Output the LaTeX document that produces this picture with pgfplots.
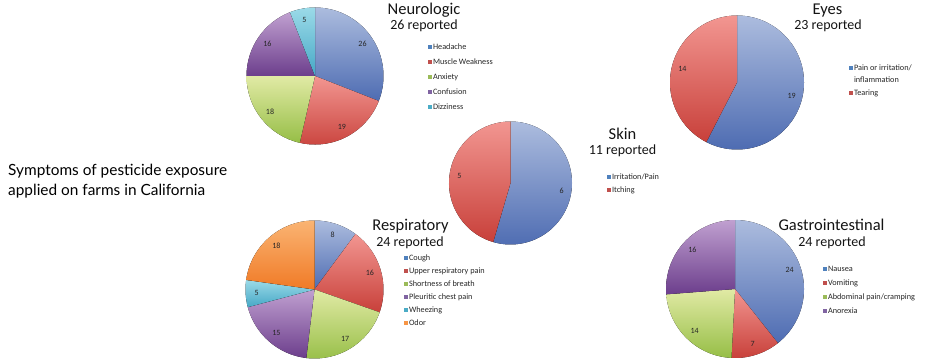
\documentclass[border=0pt]{standalone}
\usepackage{pgfplots}
\usepackage{pgfplotstable}
\pgfplotsset{compat=1.18}
\usepackage{fontspec}
\setmainfont{Carlito}
\newfontfamily\lato{Lato}

\definecolor{blueT}{RGB}{172,188,222}
\definecolor{blueB}{RGB}{78,108,178}
\definecolor{redT}{RGB}{242,150,145}
\definecolor{redB}{RGB}{200,64,58}
\definecolor{greenT}{RGB}{225,234,165}
\definecolor{greenB}{RGB}{150,190,70}
\definecolor{purpleT}{RGB}{192,160,208}
\definecolor{purpleB}{RGB}{108,62,140}
\definecolor{cyanT}{RGB}{155,218,232}
\definecolor{cyanB}{RGB}{70,168,198}
\definecolor{orangeT}{RGB}{250,180,115}
\definecolor{orangeB}{RGB}{240,122,38}
\definecolor{blueL}{RGB}{79,129,189}
\definecolor{redL}{RGB}{192,80,77}
\definecolor{greenL}{RGB}{155,187,89}
\definecolor{purpleL}{RGB}{128,100,162}
\definecolor{cyanL}{RGB}{75,172,198}
\definecolor{orangeL}{RGB}{247,150,70}

\pgfplotstableread{
value top bot
26 blueT blueB
19 redT redB
18 greenT greenB
16 purpleT purpleB
5 cyanT cyanB
}\neurotab
\pgfplotstableread{
value top bot
19 blueT blueB
14 redT redB
}\eyestab
\pgfplotstableread{
value top bot
6 blueT blueB
5 redT redB
}\skintab
\pgfplotstableread{
value top bot
8 blueT blueB
16 redT redB
17 greenT greenB
15 purpleT purpleB
5 cyanT cyanB
18 orangeT orangeB
}\resptab
\pgfplotstableread{
value top bot
24 blueT blueB
7 redT redB
14 greenT greenB
16 purpleT purpleB
}\gastrotab

\newcommand\drawpie[2]{%
  \pgfplotstablegetrowsof{#1}%
  \pgfmathtruncatemacro\pielast{\pgfplotsretval-1}%
  \gdef\pietotal{0}%
  \foreach \i in {0,...,\pielast}{%
    \pgfplotstablegetelem{\i}{value}\of{#1}%
    \pgfmathsetmacro\pietmp{\pietotal+\pgfplotsretval}%
    \global\let\pietotal\pietmp
  }%
  \gdef\pieangle{90}%
  \foreach \i in {0,...,\pielast}{%
    \pgfplotstablegetelem{\i}{value}\of{#1}\let\pieval\pgfplotsretval
    \pgfplotstablegetelem{\i}{top}\of{#1}\let\pietop\pgfplotsretval
    \pgfplotstablegetelem{\i}{bot}\of{#1}\let\piebot\pgfplotsretval
    \pgfmathsetmacro\piea{\pieangle}%
    \pgfmathsetmacro\pieb{\pieangle-360*\pieval/\pietotal}%
    \pgfmathsetmacro\piem{(\piea+\pieb)/2}%
    \fill[top color=\pietop, bottom color=\piebot] (axis cs:0,0) -- ++(\piea:#2pt) arc[start angle=\piea, end angle=\pieb, radius=#2pt] -- cycle;
    \path (axis cs:0,0) ++(\piem:{0.84*#2pt}) node[font=\fontsize{8}{9}\selectfont, text=black!85] {\pieval};
    \global\let\pieangle\pieb
  }%
}

\pgfplotsset{
  pieaxis/.style={hide axis, scale only axis, clip=false, anchor=center,
    width={2*#1pt}, height={2*#1pt}, xmin=-#1, xmax=#1, ymin=-#1, ymax=#1,
    legend cell align=left,
    legend style={anchor=north west, draw=none, fill=none, inner sep=0pt,
      font=\fontsize{8.25}{9}\selectfont,
      nodes={inner sep=0.6pt, text height=5.8pt, text depth=1.6pt, text=black!85},
      /tikz/every even column/.append style={column sep=2.6pt}},
    legend image code/.code={\fill[##1, draw=none] (0pt,-2.2pt) rectangle (4.4pt,2.2pt);}
  }
}

\begin{document}
\begin{tikzpicture}
\path[use as bounding box] (0pt,0pt) rectangle (940pt,362pt);

% Neurologic
\begin{axis}[pieaxis=68.5, at={(315pt,286pt)},
  legend style={at={(1.3234,0.7431)}, row sep=6.4pt}]
\pgfplotsextra{\drawpie{\neurotab}{68.5}}
\addlegendimage{fill=blueL}\addlegendentry{Headache}
\addlegendimage{fill=redL}\addlegendentry{Muscle Weakness}
\addlegendimage{fill=greenL}\addlegendentry{Anxiety}
\addlegendimage{fill=purpleL}\addlegendentry{Confusion}
\addlegendimage{fill=cyanL}\addlegendentry{Dizziness}
\end{axis}

% Eyes
\begin{axis}[pieaxis=67, at={(737pt,279.5pt)},
  legend style={at={(1.3343,0.6403)}, row sep=3.9pt}]
\pgfplotsextra{\drawpie{\eyestab}{67}}
\addlegendimage{fill=blueL}\addlegendentry{Pain or irritation/}
\addlegendimage{empty legend}\addlegendentry{inflammation}
\addlegendimage{fill=redL}\addlegendentry{Tearing}
\end{axis}

% Skin
\begin{axis}[pieaxis=61.5, at={(510.5pt,179pt)},
  legend style={at={(1.2829,0.5837)}, row sep=4.4pt}]
\pgfplotsextra{\drawpie{\skintab}{61.5}}
\addlegendimage{fill=blueL}\addlegendentry{Irritation/Pain}
\addlegendimage{fill=redL}\addlegendentry{Itching}
\end{axis}

% Respiratory
\begin{axis}[pieaxis=69, at={(314.5pt,72.5pt)},
  legend style={at={(1.1471,0.7594)}, row sep=4.4pt}]
\pgfplotsextra{\drawpie{\resptab}{69}}
\addlegendimage{fill=blueL}\addlegendentry{Cough}
\addlegendimage{fill=redL}\addlegendentry{Upper respiratory pain}
\addlegendimage{fill=greenL}\addlegendentry{Shortness of breath}
\addlegendimage{fill=purpleL}\addlegendentry{Pleuritic chest pain}
\addlegendimage{fill=cyanL}\addlegendentry{Wheezing}
\addlegendimage{fill=orangeL}\addlegendentry{Odor}
\end{axis}

% Gastrointestinal
\begin{axis}[pieaxis=69, at={(735pt,73pt)},
  legend style={at={(1.1362,0.6761)}, row sep=5.4pt}]
\pgfplotsextra{\drawpie{\gastrotab}{69}}
\addlegendimage{fill=blueL}\addlegendentry{Nausea}
\addlegendimage{fill=redL}\addlegendentry{Vomiting}
\addlegendimage{fill=greenL}\addlegendentry{Abdominal pain/cramping}
\addlegendimage{fill=purpleL}\addlegendentry{Anorexia}
\end{axis}

% Titles
\tikzset{ttl/.style={anchor=base, font=\fontsize{16.5}{18}\selectfont, text=black!92},
         sub/.style={anchor=base, font=\fontsize{14}{16}\selectfont, text=black!92}}
\node[ttl] at (424pt,347.3pt) {Neurologic};
\node[sub] at (424pt,332.7pt) {26 reported};
\node[ttl] at (827.5pt,347.3pt) {Eyes};
\node[sub] at (828pt,332.7pt) {23 reported};
\node[ttl] at (622.5pt,222.7pt) {Skin};
\node[sub] at (622.5pt,207pt) {11 reported};
\node[ttl] at (410.5pt,131.3pt) {Respiratory};
\node[sub] at (410pt,115.3pt) {24 reported};
\node[ttl] at (831.5pt,131.3pt) {Gastrointestinal};
\node[sub] at (832pt,115.3pt) {24 reported};

\node[anchor=base west, inner sep=0pt, font=\lato\fontsize{15.4}{17}\selectfont] at (8pt,186pt) {Symptoms of pesticide exposure};
\node[anchor=base west, inner sep=0pt, font=\lato\fontsize{15.4}{17}\selectfont] at (8pt,167pt) {applied on farms in California};
\end{tikzpicture}
\end{document}
